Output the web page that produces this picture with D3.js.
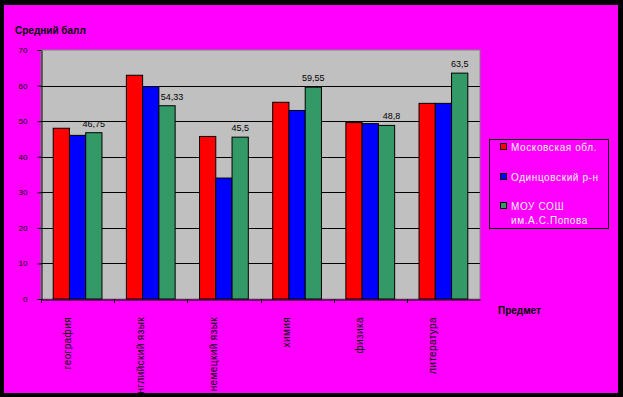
<!DOCTYPE html>
<html>
<head>
<meta charset="utf-8">
<script src="https://cdn.jsdelivr.net/npm/d3@7"></script>
<style>
  body { margin: 0; background: #000; }
  svg { display: block; font-family: "Liberation Sans", Arial, sans-serif; }
</style>
</head>
<body>
<div id="chart"></div>
<script>
// categories and series
var subjects = ["география", "английский язык", "немецкий язык", "химия", "физика", "литература"];
var seriesNames = ["Московская обл.", "Одинцовский р-н", "МОУ СОШ им.А.С.Попова"];
var moscow = [48, 62.9, 45.7, 55.3, 49.6, 55];
var odintsovo = [46, 59.7, 34, 53, 49.3, 55];
var school = [46.75, 54.33, 45.5, 59.55, 48.8, 63.5];
var schoolLabels = ["46,75", "54,33", "45,5", "59,55", "48,8", "63,5"];
var yTicks = [0, 10, 20, 30, 40, 50, 60, 70];
var colors = ["#ff0000", "#0000ff", "#339966"];

var W = 623, H = 397;

var svg = d3.select("#chart").append("svg")
    .attr("width", W)
    .attr("height", H);

// magenta background inside black frame
svg.append("rect").attr("width", W).attr("height", H).attr("fill", "#000");
svg.append("rect")
    .attr("x", 4).attr("y", 5)
    .attr("width", 614).attr("height", 388)
    .attr("fill", "#ff00ff");

var plot = { left: 41, right: 480, top: 50, bottom: 299 };

var x = d3.scaleBand()
    .domain(subjects)
    .range([plot.left, plot.right]);

var y = d3.scaleLinear()
    .domain([0, 70])
    .range([plot.bottom, plot.top]);

// bar width: 150% gap between groups
var barW = x.bandwidth() / 4.5;
var xs = d3.scaleBand()
    .domain([0, 1, 2])
    .range([barW * 0.75, barW * 3.75]);

// plot area
svg.append("rect")
    .attr("x", plot.left).attr("y", plot.top)
    .attr("width", plot.right - plot.left)
    .attr("height", plot.bottom - plot.top)
    .attr("fill", "#c0c0c0")
    .attr("stroke", "#808080")
    .attr("stroke-width", 1);

// gridlines
svg.append("g")
    .selectAll("line")
    .data(yTicks.slice(1, -1))
    .enter()
    .append("line")
    .attr("x1", plot.left).attr("x2", plot.right)
    .attr("y1", d => Math.round(y(d)) + 0.5)
    .attr("y2", d => Math.round(y(d)) + 0.5)
    .attr("stroke", "#000");

// y axis
var yAxis = svg.append("g")
    .attr("transform", "translate(" + (plot.left + 0.5) + ",0)")
    .call(d3.axisLeft(y).tickValues(yTicks).tickSize(4).tickPadding(10).tickSizeOuter(0));
yAxis.selectAll("text").style("font-size", "8px").attr("fill", "#000");
yAxis.selectAll("line, path").attr("stroke", "#000");

// x axis
var xAxis = svg.append("g")
    .attr("transform", "translate(0," + (plot.bottom + 0.5) + ")")
    .call(d3.axisBottom(x).tickSize(0).tickFormat(""));
xAxis.select("path").attr("stroke", "#000");

// x ticks between categories
svg.append("g")
    .selectAll("line")
    .data(subjects)
    .enter()
    .append("line")
    .attr("x1", d => Math.round(x(d)) + 0.5)
    .attr("x2", d => Math.round(x(d)) + 0.5)
    .attr("y1", plot.bottom)
    .attr("y2", plot.bottom + 4)
    .attr("stroke", "#000");

// bars
var allSeries = [moscow, odintsovo, school];
var groups = svg.append("g")
    .selectAll("g")
    .data(subjects)
    .enter()
    .append("g")
    .attr("transform", d => "translate(" + x(d) + ",0)");

groups.selectAll("rect")
    .data((d, i) => allSeries.map((s, k) => ({ k: k, v: s[i] })))
    .enter()
    .append("rect")
    .attr("x", d => xs(d.k))
    .attr("width", xs.bandwidth())
    .attr("y", d => y(d.v))
    .attr("height", d => y(0) - y(d.v))
    .attr("fill", d => colors[d.k])
    .attr("stroke", "#000")
    .attr("stroke-width", 1);

// data labels on the school series (nudge right where it would hit the blue bar)
svg.append("g")
    .selectAll("text")
    .data(subjects)
    .enter()
    .append("text")
    .attr("x", (d, i) => x(d) + xs(2) + xs.bandwidth() / 2 + (school[i] < odintsovo[i] ? 5 : 0))
    .attr("y", (d, i) => y(school[i]) - 6)
    .attr("text-anchor", "middle")
    .style("font-size", "9px")
    .attr("fill", "#000")
    .text((d, i) => schoolLabels[i]);

// rotated category labels
svg.append("g")
    .selectAll("text")
    .data(subjects)
    .enter()
    .append("text")
    .attr("transform", d => "translate(" + (x(d) + x.bandwidth() / 2 - 7) + ",317) rotate(-90)")
    .attr("text-anchor", "end")
    .style("font-size", "10px")
    .style("letter-spacing", "0.4px")
    .attr("fill", "#000")
    .text(d => d);

// axis titles
svg.append("text")
    .attr("x", 15).attr("y", 34)
    .style("font-size", "10px")
    .style("font-weight", "bold")
    .attr("fill", "#000")
    .text("Средний балл");

svg.append("text")
    .attr("x", 498).attr("y", 314)
    .style("font-size", "10px")
    .style("font-weight", "bold")
    .attr("fill", "#000")
    .text("Предмет");

// legend
var legend = svg.append("g");
legend.append("rect")
    .attr("x", 489.5).attr("y", 139.5)
    .attr("width", 119).attr("height", 89)
    .attr("fill", "#ff00ff")
    .attr("stroke", "#000");

var rowY = [147, 177, 206];
var legendLines = [["Московская обл."], ["Одинцовский р-н"], ["МОУ СОШ", "им.А.С.Попова"]];

var items = legend.selectAll("g.item")
    .data(seriesNames)
    .enter()
    .append("g")
    .attr("class", "item")
    .attr("transform", (d, i) => "translate(0," + rowY[i] + ")");

items.append("rect")
    .attr("x", 500.5).attr("y", -3.5)
    .attr("width", 6).attr("height", 6)
    .attr("fill", (d, i) => colors[i])
    .attr("stroke", "#000");

items.append("text")
    .attr("x", 511)
    .attr("y", 4)
    .style("font-size", "10px")
    .style("letter-spacing", "0.6px")
    .attr("fill", "#f4f4f4")
    .selectAll("tspan")
    .data((d, i) => legendLines[i])
    .enter()
    .append("tspan")
    .attr("x", 511)
    .attr("dy", (d, j) => j == 0 ? 0 : 14)
    .text(d => d);

// black frame drawn over anything that runs past the edge
svg.append("path")
    .attr("fill-rule", "evenodd")
    .attr("fill", "#000")
    .attr("d", "M0,0H" + W + "V" + H + "H0Z M4,5V393H618V5Z");
</script>
</body>
</html>
